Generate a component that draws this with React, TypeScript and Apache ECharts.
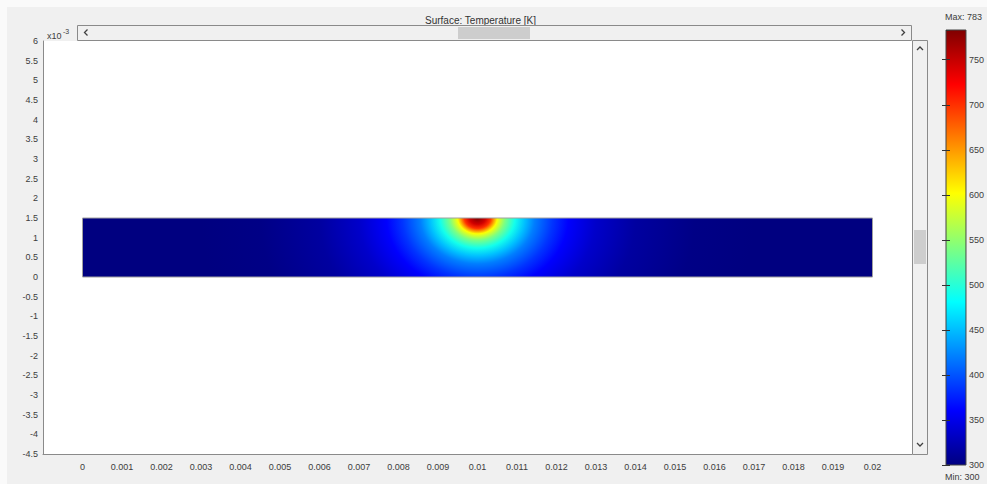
import React, { useEffect, useRef } from "react";
import * as echarts from "echarts";

// Heated strip geometry (x in m, y in units of 1e-3 m)
const stripX = [0, 0.02];
const stripY = [0, 1.5];
const sourcePoint = [0.01, 1.5];

// Temperature profile away from the heat source (distance in mm, temperature in K)
const profileDistance = [0, 0.2, 0.33, 0.5, 0.7, 0.95, 1.2, 1.45, 1.9, 2.3, 3.0, 4.0, 5.5, 7.0];
const profileTemp = [783, 745, 700, 600, 540, 490, 452, 420, 385, 360, 335, 315, 303, 300];

// Colour range of the surface plot
const tempMin = 300;
const tempMax = 783;
const tempStep = 50;

// Jet-style colour table
const jetTable: [number, number[]][] = [
  [0, [0, 0, 128]],
  [0.125, [0, 0, 255]],
  [0.375, [0, 255, 255]],
  [0.625, [255, 255, 0]],
  [0.875, [255, 0, 0]],
  [1, [128, 0, 0]],
];

// Vertical squeeze of the isotherms relative to their horizontal spread
const depthRatio = 0.8;

function jet(t: number): string {
  const v = Math.max(0, Math.min(1, t));
  for (let i = 1; i < jetTable.length; i++) {
    const [t1, c1] = jetTable[i];
    const [t0, c0] = jetTable[i - 1];
    if (v <= t1) {
      const f = (v - t0) / (t1 - t0);
      const c = c0.map((a, k) => Math.round(a + (c1[k] - a) * f));
      return `rgb(${c[0]},${c[1]},${c[2]})`;
    }
  }
  return "rgb(128,0,0)";
}

const tempColor = (T: number) => jet((T - tempMin) / (tempMax - tempMin));

const FONT = "Liberation Sans, Arial, sans-serif";
const LABEL = "#3c3c3c";

export default function App() {
  const ref = useRef<HTMLDivElement>(null);

  useEffect(() => {
    if (!ref.current) return;
    const chart = echarts.init(ref.current, undefined, { renderer: "svg" });

    const maxD = profileDistance[profileDistance.length - 1];
    const fieldStops = profileDistance.map((d, i) => ({
      offset: d / maxD,
      color: tempColor(profileTemp[i]),
    }));
    // colour bar runs from the bottom (min) to the top (max)
    const barStops = jetTable.map(([t, c]) => ({
      offset: t,
      color: `rgb(${c[0]},${c[1]},${c[2]})`,
    }));

    const chevron = (pts: number[][]) => ({
      type: "polyline",
      z: 101,
      shape: { points: pts },
      style: { stroke: "#404040", lineWidth: 1.3, fill: null },
    });

    chart.setOption({
      animation: false,
      backgroundColor: "#fafafa",
      title: {
        text: "Surface: Temperature [K]",
        left: 420,
        top: 10,
        textStyle: { fontFamily: FONT, fontSize: 10, fontWeight: "normal", color: "#333" },
      },
      graphic: [
        { type: "rect", z: -10, silent: true, shape: { x: 7, y: 7, width: 990, height: 490 }, style: { fill: "#f0f0f0" } },
        // horizontal scrollbar
        { type: "rect", z: 100, shape: { x: 77.5, y: 25.5, width: 834, height: 15 }, style: { fill: "#f0f0f0", stroke: "#8a8a8a", lineWidth: 1 } },
        { type: "rect", z: 101, shape: { x: 458, y: 27, width: 72, height: 12 }, style: { fill: "#cdcdcd" } },
        chevron([[87.5, 29.5], [84.5, 32.5], [87.5, 35.5]]),
        chevron([[901.5, 29.5], [904.5, 32.5], [901.5, 35.5]]),
        // vertical scrollbar
        { type: "rect", z: 100, shape: { x: 912.5, y: 40.5, width: 15, height: 414 }, style: { fill: "#f0f0f0", stroke: "#8a8a8a", lineWidth: 1 } },
        { type: "rect", z: 101, shape: { x: 914, y: 230, width: 12, height: 34 }, style: { fill: "#cdcdcd" } },
        chevron([[917, 50], [920, 47], [923, 50]]),
        chevron([[917, 443], [920, 446], [923, 443]]),
        // exponent of the y axis
        { type: "text", z: 100, style: { x: 47, y: 36, text: "x10", fontFamily: FONT, fontSize: 9, fill: LABEL, verticalAlign: "middle" } },
        { type: "text", z: 100, style: { x: 63, y: 31, text: "-3", fontFamily: FONT, fontSize: 7, fill: LABEL, verticalAlign: "middle" } },
        // colour range extremes
        { type: "text", z: 100, style: { x: 945, y: 17, text: "Max: 783", fontFamily: FONT, fontSize: 9, fill: LABEL, verticalAlign: "middle" } },
        { type: "text", z: 100, style: { x: 945, y: 477, text: "Min: 300", fontFamily: FONT, fontSize: 9, fill: LABEL, verticalAlign: "middle" } },
      ],
      grid: [
        { left: 43, top: 41, right: 75, bottom: 30, show: true, backgroundColor: "#ffffff", borderWidth: 0 },
        { left: 946, top: 30, width: 20, bottom: 19, show: false },
      ],
      xAxis: [
        {
          type: "value",
          gridIndex: 0,
          min: -0.001,
          max: 0.021,
          interval: 0.001,
          axisLine: { show: true, onZero: false, lineStyle: { color: "#8a8a8a", width: 1 } },
          axisTick: { show: false },
          splitLine: { show: false },
          axisLabel: {
            margin: 8,
            showMinLabel: false,
            showMaxLabel: false,
            fontFamily: FONT,
            fontSize: 9,
            color: LABEL,
          },
        },
        { type: "value", gridIndex: 1, min: 0, max: 1, show: false },
      ],
      yAxis: [
        {
          type: "value",
          gridIndex: 0,
          min: -4.5,
          max: 6,
          interval: 0.5,
          axisLine: { show: true, onZero: false, lineStyle: { color: "#8a8a8a", width: 1 } },
          axisTick: { show: false },
          splitLine: { show: false },
          axisLabel: {
            margin: 5,
            showMinLabel: true,
            showMaxLabel: true,
            fontFamily: FONT,
            fontSize: 9,
            color: LABEL,
          },
        },
        {
          type: "value",
          gridIndex: 1,
          position: "right",
          min: tempMin,
          max: tempMax,
          interval: tempStep,
          z: 5,
          axisLine: { show: false },
          axisTick: { show: true, inside: true, length: 4, lineStyle: { color: "#333", width: 1 } },
          splitLine: { show: false },
          axisLabel: {
            margin: 3,
            showMaxLabel: false,
            fontFamily: FONT,
            fontSize: 9,
            color: LABEL,
          },
        },
        {
          type: "value",
          gridIndex: 1,
          position: "left",
          min: tempMin,
          max: tempMax,
          interval: tempStep,
          z: 5,
          axisLine: { show: false },
          axisTick: { show: true, inside: true, length: 4, lineStyle: { color: "#333", width: 1 } },
          splitLine: { show: false },
          axisLabel: { show: false },
        },
      ],
      series: [
        {
          type: "custom",
          xAxisIndex: 0,
          yAxisIndex: 0,
          z: 2,
          data: [[stripX[0], stripY[0], stripX[1], stripY[1]]],
          encode: { x: [0, 2], y: [1, 3] },
          renderItem: (params: any, api: any) => {
            const tl = api.coord([api.value(0), api.value(3)]);
            const br = api.coord([api.value(2), api.value(1)]);
            const c = api.coord(sourcePoint);
            const R = api.size([maxD * 1e-3, 0])[0];
            const ly0 = c[1] + (tl[1] - c[1]) / depthRatio;
            const ly1 = c[1] + (br[1] - c[1]) / depthRatio;
            return {
              type: "group",
              children: [
                {
                  type: "rect",
                  shape: { x: tl[0], y: ly0, width: br[0] - tl[0], height: ly1 - ly0 },
                  originX: c[0],
                  originY: c[1],
                  scaleY: depthRatio,
                  style: { fill: new echarts.graphic.RadialGradient(c[0], c[1], R, fieldStops, true) },
                },
                {
                  type: "rect",
                  shape: { x: tl[0], y: tl[1], width: br[0] - tl[0], height: br[1] - tl[1] },
                  style: { fill: "none", stroke: "#a0a0a0", lineWidth: 1 },
                },
              ],
            };
          },
        },
        {
          type: "custom",
          xAxisIndex: 1,
          yAxisIndex: 1,
          z: 2,
          data: [[0, tempMin, 1, tempMax]],
          encode: { x: [0, 2], y: [1, 3] },
          renderItem: (params: any, api: any) => {
            const tl = api.coord([api.value(0), api.value(3)]);
            const br = api.coord([api.value(2), api.value(1)]);
            return {
              type: "rect",
              shape: { x: tl[0], y: tl[1], width: br[0] - tl[0], height: br[1] - tl[1] },
              style: {
                fill: new echarts.graphic.LinearGradient(0, 1, 0, 0, barStops),
                stroke: "#444",
                lineWidth: 1,
              },
            };
          },
        },
      ],
    });

    return () => chart.dispose();
  }, []);

  return (
    <div
      ref={ref}
      style={{ position: "absolute", left: 0, top: 0, width: 987, height: 484 }}
    />
  );
}
